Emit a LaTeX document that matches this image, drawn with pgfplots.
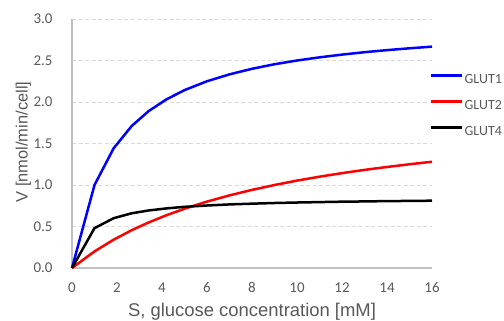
\documentclass[border=0pt]{standalone}
\usepackage{pgfplots}
\pgfplotsset{compat=1.18}
\usepackage{fontspec}
\setmainfont{Carlito}
\newfontfamily\arialfont{Liberation Sans}
\definecolor{txtgray}{HTML}{595959}
\definecolor{axgray}{HTML}{BFBFBF}
\definecolor{gridgray}{HTML}{D9D9D9}
\definecolor{gblue}{RGB}{0,0,255}
\definecolor{gred}{RGB}{255,0,0}
\begin{document}
\begin{tikzpicture}
\useasboundingbox (0,0) rectangle (504bp,321bp);
\begin{axis}[
  at={(72bp,53bp)}, anchor=south west,
  scale only axis, width=360bp, height=249bp,
  xmin=0, xmax=16, ymin=0, ymax=3,
  xtick={0,2,...,16}, ytick={0,0.5,...,3},
  axis x line*=bottom, axis y line*=left,
  axis line style={axgray, line width=2.6bp, -},
  tick style={draw=none},
  ymajorgrids, grid style={gridgray, dash pattern=on 4bp off 2.5bp, line width=0.9bp},
  /pgf/number format/assume math mode=true,
  yticklabel style={/pgf/number format/fixed, /pgf/number format/fixed zerofill, /pgf/number format/precision=1, xshift=-16bp},
  xticklabel style={yshift=-11bp},
  ticklabel style={font=\fontsize{15}{17}\selectfont, text=txtgray},
  xlabel={S, glucose concentration [mM]},
  ylabel={V [nmol/min/cell]},
  xlabel style={font=\arialfont\fontsize{18.5}{20}\selectfont, text=txtgray, at={(axis description cs:0.5,-0.195)}, anchor=base},
  ylabel style={font=\arialfont\fontsize{16.5}{18}\selectfont, text=txtgray, at={(axis description cs:-0.1236,0.506)}, anchor=base},
  legend style={at={(axis description cs:0.9944,0.781)}, anchor=north west, draw=none, fill=none,
    font=\fontsize{14}{16}\selectfont, text=txtgray, row sep=16.5bp, column sep=1bp, inner sep=0pt,
    nodes={inner sep=0pt, text height=9.5bp, text depth=0bp}},
  legend cell align=left,
  legend image code/.code={\draw[#1] (0bp,0.3em) -- (31bp,0.3em);},
  clip=false,
]
\addplot[gblue, line width=2.5bp] coordinates {
(0,0) (1,1.0) (1.85,1.442) (2.65,1.710) (3.4,1.889) (4.2,2.032) (5,2.143) (6,2.25) (7,2.333) (8,2.4) (9,2.455) (10,2.5) (11,2.538) (12,2.571) (13,2.6) (14,2.625) (15,2.647) (16,2.667)};
\addlegendentry{GLUT1}
\addplot[gred, line width=2.5bp] coordinates {
(0,0) (1,0.2) (1.85,0.341) (2.65,0.455) (3.4,0.548) (4.2,0.636) (5,0.714) (6,0.8) (7,0.875) (8,0.941) (9,1.0) (10,1.053) (11,1.1) (12,1.143) (13,1.182) (14,1.217) (15,1.25) (16,1.28)};
\addlegendentry{GLUT2}
\addplot[black, line width=2.5bp] coordinates {
(0,0) (1,0.480) (1.85,0.600) (2.65,0.659) (3.4,0.693) (4.2,0.718) (5,0.737) (6,0.753) (7,0.766) (8,0.775) (9,0.783) (10,0.789) (11,0.794) (12,0.799) (13,0.802) (14,0.806) (15,0.808) (16,0.811)};
\addlegendentry{GLUT4}
\end{axis}
\end{tikzpicture}
\end{document}
